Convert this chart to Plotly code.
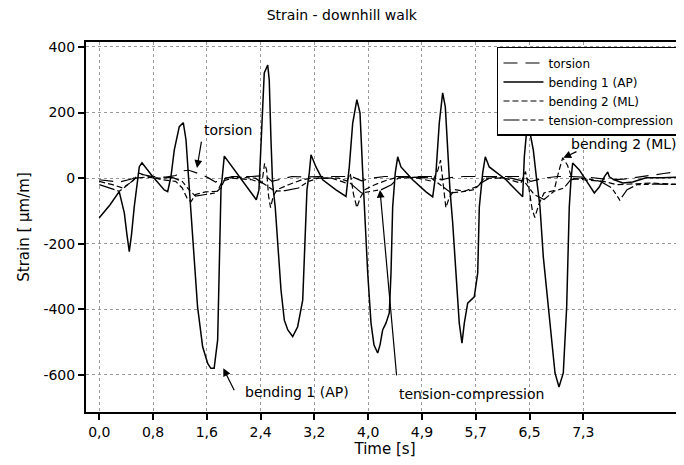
import plotly.graph_objects as go

# ---------------- data ----------------
t_bend1 = [0.00, 0.16, 0.30, 0.377, 0.417, 0.452, 0.485, 0.527, 0.603, 0.643, 0.804, 0.979, 1.03, 1.08, 1.13,
           1.205, 1.265, 1.306, 1.347, 1.38, 1.43, 1.48, 1.557, 1.633, 1.68, 1.73, 1.783, 1.81, 1.833, 1.883,
           2.07, 2.365, 2.405, 2.435, 2.485, 2.537, 2.56, 2.586, 2.61, 2.65, 2.687, 2.737, 2.787, 2.84, 2.913,
           2.988, 3.064, 3.10, 3.128, 3.163, 3.189, 3.264, 3.365, 3.565, 3.716, 3.766, 3.817, 3.88, 3.927,
           3.968, 3.992, 4.043, 4.093, 4.138, 4.193, 4.228, 4.268, 4.318, 4.368, 4.394, 4.419, 4.458, 4.495,
           4.544, 4.72, 4.921, 5.022, 5.071, 5.121, 5.172, 5.212, 5.248, 5.282, 5.323, 5.373, 5.422, 5.463,
           5.498, 5.549, 5.648, 5.70, 5.724, 5.775, 5.814, 5.874, 6.126, 6.276, 6.377, 6.402, 6.438, 6.465,
           6.537, 6.588, 6.638, 6.688, 6.789, 6.864, 6.924, 6.989, 7.04, 7.079, 7.105, 7.13, 7.23, 7.33,
           7.456, 7.531, 7.607, 7.658, 7.682, 7.757, 7.884, 8.034, 8.235, 8.486, 8.807]
v_bend1 = [-121, -82, -41, -106, -173, -224, -173, -87, 35, 47, 5, -36, -41, 5, 86,
           157, 169, 117, -5, -106, -239, -392, -514, -565, -580, -580, -493, -289, -36, 67,
           15, -66, -36, 117, 321, 345, 299, 117, -15, -88, -189, -341, -433, -463, -483,
           -453, -372, -188, -36, 16, 71, 34, -5, -36, -56, 35, 168, 239, 199,
           16, -88, -289, -442, -509, -533, -509, -463, -442, -411, -289, -88, 16, 65,
           34, -5, -42, -57, 16, 168, 260, 217, 65, -36, -137, -289, -442, -503,
           -442, -381, -362, -289, -88, 16, 65, 34, -5, -36, -57, 65, 147, 162,
           86, -5, -88, -240, -442, -594, -637, -594, -392, -88, -5, 46, 25, -5,
           -45, -27, 4, 19, 4, -5, -15, -12, 1, 1, 4]

t_torsion = [0, 0.3, 0.5, 0.62, 0.8, 1.0, 1.15, 1.25, 1.35, 1.45, 1.55, 1.65, 1.75, 1.85, 2.0, 2.3, 2.5, 2.6,
             2.7, 2.9, 3.1, 3.3, 3.6, 3.8, 3.95, 4.1, 4.3, 4.5, 4.8, 5.0, 5.15, 5.3, 5.5, 5.8, 6.1, 6.4,
             6.5, 6.7, 6.9, 7.1, 7.4, 7.7, 7.9, 8.1, 8.3, 8.5, 8.7, 8.807]
v_torsion = [-5, -12, -2, 12, 5, 3, 8, 22, 24, 18, 10, 0, -12, -3, 5, 5, 8, -10,
             -5, 5, 3, 5, 5, 5, -8, 0, 5, 5, 5, 5, -5, 2, 5, 5, 5, 5,
             -10, 0, 5, 5, 2, -5, -3, 2, 8, 14, 20, 24]

t_bend2 = [0, 0.2, 0.35, 0.5, 0.6, 0.75, 0.95, 1.15, 1.25, 1.32, 1.38, 1.45, 1.6, 1.78, 1.85, 2.0, 2.3,
           2.45, 2.49, 2.52, 2.55, 2.58, 2.62, 2.68, 2.85, 3.05, 3.2, 3.5, 3.72, 3.78, 3.83, 3.88, 3.93,
           4.0, 4.15, 4.35, 4.5, 4.8, 5.02, 5.1, 5.14, 5.18, 5.22, 5.27, 5.35, 5.5, 5.7, 5.8, 6.1, 6.35,
           6.42, 6.47, 6.52, 6.56, 6.62, 6.7, 6.85, 6.92, 6.98, 7.05, 7.12, 7.3, 7.6, 7.8, 8.0, 8.3, 8.6, 8.807]
v_bend2 = [-10, -20, -30, -10, 15, 5, -5, -10, -30, -60, -72, -50, -42, -40, -10, 0, -5,
           -15, 45, 25, -55, -90, -55, -35, -20, -5, 0, 0, -15, 15, -50, -90, -60,
           -35, -20, -5, 3, 0, -10, 25, 55, -20, -90, -60, -35, -40, -25, 0, 0, -15,
           20, -30, -95, -120, -80, -45, -38, 20, 62, 40, 0, -5, -10, -20, -18, -15, -18, -18]

t_tension = [0, 0.15, 0.3, 0.4, 0.55, 0.7, 0.9, 1.1, 1.25, 1.35, 1.45, 1.6, 1.75, 1.83, 1.9, 2.1, 2.35,
             2.5, 2.65, 2.8, 3.0, 3.15, 3.3, 3.6, 3.75, 3.95, 4.1, 4.25, 4.4, 4.5, 4.8, 5.0, 5.1, 5.3,
             5.45, 5.65, 5.75, 5.9, 6.2, 6.4, 6.55, 6.7, 6.85, 7.0, 7.1, 7.3, 7.55, 7.72, 7.84, 7.95,
             8.1, 8.4, 8.807]
v_tension = [-20, -30, -40, -25, 0, 3, 0, 2, -10, -35, -55, -50, -45, -30, 0, 3, 0,
             -20, -40, -38, -30, -10, 0, 0, -10, -45, -40, -35, -20, 0, 3, 0, -15, -45,
             -42, -35, -15, 3, 0, -10, -50, -65, -40, -30, -5, 0, -10, -30, -67, -35,
             -20, -18, -20]

x_tickvals = [0.0, 0.81, 1.62, 2.43, 3.24, 4.05, 4.86, 5.67, 6.48, 7.29]
x_ticktext = ["0,0", "0,8", "1,6", "2,4", "3,2", "4,0", "4,9", "5,7", "6,5", "7,3"]
y_tickvals = [400, 200, 0, -200, -400, -600]
y_ticktext = ["400", "200", "0", "-200", "-400", "-600"]

FONT = "DejaVu Sans"

fig = go.Figure()
fig.add_trace(go.Scatter(x=t_torsion, y=v_torsion, mode="lines", name="torsion",
                         line=dict(color="black", width=1.2, dash="14px,8px")))
fig.add_trace(go.Scatter(x=t_bend1, y=v_bend1, mode="lines", name="bending 1 (AP)",
                         line=dict(color="black", width=1.5)))
fig.add_trace(go.Scatter(x=t_bend2, y=v_bend2, mode="lines", name="bending 2 (ML)",
                         line=dict(color="black", width=1.2, dash="6px,3px")))
fig.add_trace(go.Scatter(x=t_tension, y=v_tension, mode="lines", name="tension-compression",
                         line=dict(color="black", width=1.2, dash="16px,3px,5px,3px,5px,3px")))

# annotations: labels and arrows
labels = [
    ("torsion", 1.94, 147),
    ("bending 1 (AP)", 2.98, -652),
    ("tension-compression", 5.61, -658),
    ("bending 2 (ML)", 7.90, 104),
]
for txt, x, y in labels:
    fig.add_annotation(x=x, y=y, text=txt, showarrow=False,
                       font=dict(family=FONT, size=14, color="black"))

arrows = [
    (1.472, 31, 1.542, 116),
    (1.868, -580, 2.044, -651),
    (4.228, -36, 4.48, -606),
    (6.99, 62, 7.21, 83),
]
for hx, hy, tx, ty in arrows:
    fig.add_annotation(x=hx, y=hy, ax=tx, ay=ty, axref="x", ayref="y", text="",
                       showarrow=True, arrowhead=2, arrowsize=1.3, arrowwidth=1.2,
                       arrowcolor="black")

# the page places the figure 8px from the top-left corner; margins compensate
fig.update_layout(
    width=684, height=465,
    margin=dict(l=78, r=8, t=34, b=61, autoexpand=False),
    paper_bgcolor="white", plot_bgcolor="white",
    font=dict(family=FONT, size=14, color="black"),
    title=dict(text="Strain - downhill walk", x=0.488, xref="container", y=0.985, yref="container",
               xanchor="center", yanchor="middle", font=dict(family=FONT, size=14)),
    legend=dict(x=0.9933, y=0.9865, xanchor="right", yanchor="top",
                bgcolor="white", bordercolor="black", borderwidth=1.5,
                font=dict(family=FONT, size=12), itemwidth=40, tracegroupgap=0),
    showlegend=True,
)
fig.update_xaxes(range=[-0.2, 8.807], tickvals=x_tickvals, ticktext=x_ticktext,
                 showgrid=True, gridcolor="#9a9a9a", griddash="dot", gridwidth=1,
                 showline=True, linecolor="black", linewidth=2, mirror=True,
                 ticks="outside", ticklen=6, tickcolor="black", tickwidth=1.5,
                 zeroline=False, tickfont=dict(size=14), automargin=False,
                 title=dict(text="Time [s]", standoff=4, font=dict(size=15)))
fig.update_yaxes(range=[-713, 415], tickvals=y_tickvals, ticktext=y_ticktext,
                 showgrid=True, gridcolor="#9a9a9a", griddash="dot", gridwidth=1,
                 showline=True, linecolor="black", linewidth=2, mirror=True,
                 ticks="outside", ticklen=6, tickcolor="black", tickwidth=1.5,
                 zeroline=False, tickfont=dict(size=14), automargin=False,
                 title=dict(text="Strain [ μm/m]", standoff=10, font=dict(size=15)))

fig.write_html("out.html")
